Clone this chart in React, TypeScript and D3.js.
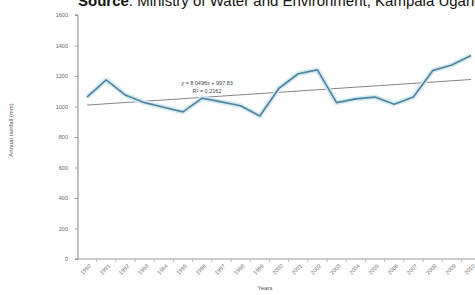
import React, { useEffect, useRef } from "react";
import * as d3 from "d3";

// annual rainfall (mm)
const years = [
  "1990", "1991", "1992", "1993", "1994", "1995", "1996", "1997", "1998", "1999", "2000",
  "2001", "2002", "2003", "2004", "2005", "2006", "2007", "2008", "2009", "2010",
];
const rainfall = [
  1062, 1175, 1075, 1025, 995, 965, 1055, 1030, 1005, 938, 1120,
  1215, 1240, 1025, 1050, 1062, 1015, 1062, 1235, 1272, 1335,
];
const yTicks = [0, 200, 400, 600, 800, 1000, 1200, 1400, 1600];
const eqLabels = ["y = 8.0496x + 997.83", "R\u00b2 = 0.2162"];

const width = 475;
const height = 295;

const App: React.FC = () => {
  const ref = useRef<SVGSVGElement>(null);

  useEffect(() => {
    const svg = d3.select(ref.current);
    svg.selectAll("*").remove();

    const left = 78;
    const bottom = 259;
    const top = 15;

    const x = d3
      .scalePoint<string>()
      .domain(years)
      .range([87, 471]);

    const y = d3.scaleLinear().domain([0, 1600]).range([bottom, top]);

    // title, clipped at the top like the source
    const title = svg
      .append("text")
      .attr("x", 78)
      .attr("y", 6)
      .attr("font-family", "Liberation Sans, Arial, sans-serif")
      .attr("font-size", 15)
      .attr("fill", "#111");
    title.append("tspan").attr("font-weight", "bold").text("Source");
    title.append("tspan").text(": Ministry of Water and Environment, Kampala Uganda");

    // axes
    const yAxis = svg
      .append("g")
      .attr("transform", `translate(${left},0)`)
      .call(
        d3
          .axisLeft(y)
          .tickValues(yTicks)
          .tickFormat(d3.format("d"))
          .tickSize(3)
          .tickPadding(7)
      );
    yAxis.select(".domain").attr("stroke", "#888").attr("d", `M-3,${top}H0V${bottom}H-3`);
    yAxis.selectAll(".tick line").attr("stroke", "#999");
    yAxis
      .selectAll("text")
      .attr("font-family", "Liberation Sans, Arial, sans-serif")
      .attr("font-size", 5.5)
      .attr("fill", "#666");

    const xAxis = svg.append("g").attr("transform", `translate(0,${bottom})`);
    xAxis
      .append("line")
      .attr("x1", left)
      .attr("x2", width)
      .attr("stroke", "#999");
    const step = x.step();
    years.forEach((yr) => {
      const px = x(yr)!;
      xAxis
        .append("line")
        .attr("x1", px + step / 2)
        .attr("x2", px + step / 2)
        .attr("y1", 0)
        .attr("y2", 3)
        .attr("stroke", "#bbb");
      xAxis
        .append("text")
        .attr("transform", `translate(${px + 3},${6}) rotate(-45)`)
        .attr("text-anchor", "end")
        .attr("dy", "0.35em")
        .attr("font-family", "Liberation Sans, Arial, sans-serif")
        .attr("font-size", 5.5)
        .attr("fill", "#666")
        .text(yr);
    });

    svg
      .append("text")
      .attr("x", 265)
      .attr("y", 290)
      .attr("text-anchor", "middle")
      .attr("font-family", "Liberation Sans, Arial, sans-serif")
      .attr("font-size", 6)
      .attr("fill", "#555")
      .text("Years");

    svg
      .append("text")
      .attr("transform", `translate(13,130) rotate(-90)`)
      .attr("text-anchor", "middle")
      .attr("font-family", "Liberation Sans, Arial, sans-serif")
      .attr("font-size", 6)
      .attr("fill", "#555")
      .text("Annual rainfall (mm)");

    // linear trend from the data (x = 1..n)
    const n = rainfall.length;
    const xs = rainfall.map((_, i) => i + 1);
    const mx = d3.mean(xs)!;
    const my = d3.mean(rainfall)!;
    const slope =
      d3.sum(xs, (xi, i) => (xi - mx) * (rainfall[i] - my)) /
      d3.sum(xs, (xi) => (xi - mx) ** 2);
    const icpt = my - slope * mx;

    svg
      .append("line")
      .attr("x1", x(years[0])!)
      .attr("x2", x(years[n - 1])!)
      .attr("y1", y(icpt + slope))
      .attr("y2", y(icpt + slope * n))
      .attr("stroke", "#777")
      .attr("stroke-width", 0.9);

    // rainfall series with a light halo
    const line = d3
      .line<number>()
      .x((_, i) => x(years[i])!)
      .y((d) => y(d));

    svg
      .append("path")
      .datum(rainfall)
      .attr("fill", "none")
      .attr("stroke", "#d2edf6")
      .attr("stroke-width", 5)
      .attr("stroke-linejoin", "round")
      .attr("d", line);

    svg
      .append("path")
      .datum(rainfall)
      .attr("fill", "none")
      .attr("stroke", "#55829b")
      .attr("stroke-width", 1.7)
      .attr("stroke-linejoin", "round")
      .attr("d", line);

    eqLabels.forEach((t, i) => {
      svg
        .append("text")
        .attr("x", 207)
        .attr("y", 85 + i * 8)
        .attr("text-anchor", "middle")
        .attr("font-family", "Liberation Sans, Arial, sans-serif")
        .attr("font-size", 5.5)
        .attr("fill", "#444")
        .text(t);
    });
  }, []);

  return (
    <svg
      ref={ref}
      width={width}
      height={height}
      style={{ position: "absolute", left: 0, top: 0, background: "#fff" }}
    />
  );
};

export default App;
